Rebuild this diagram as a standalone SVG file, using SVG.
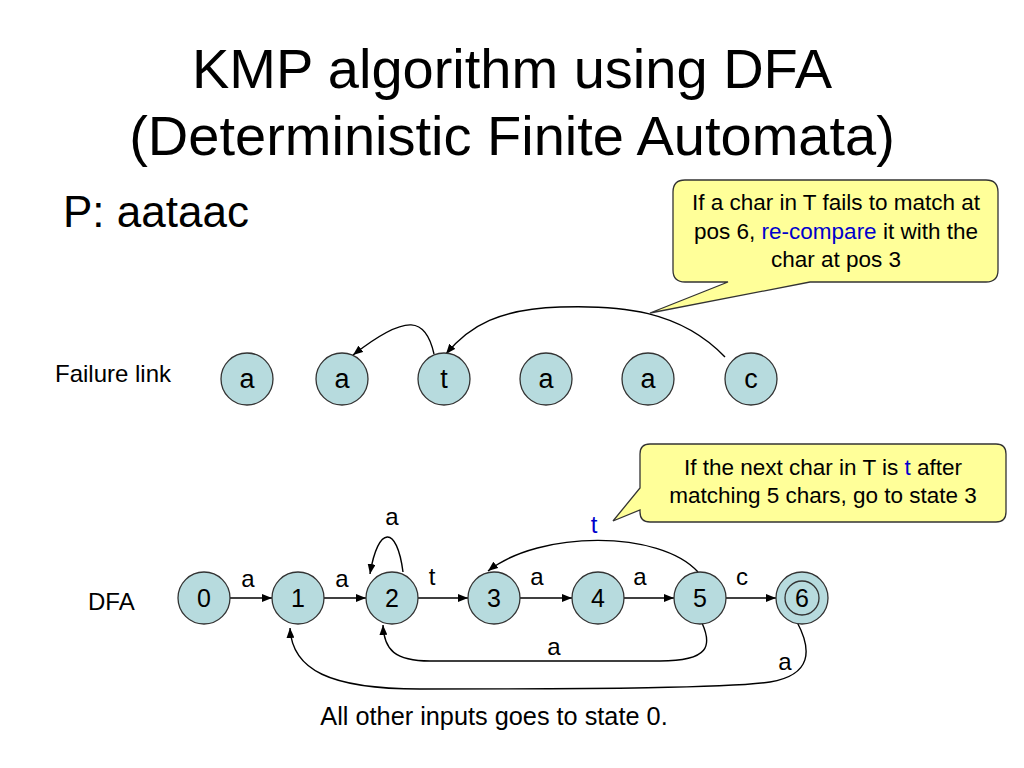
<svg xmlns="http://www.w3.org/2000/svg" width="1024" height="768" viewBox="0 0 1024 768">
<style>
text{font-family:"Liberation Sans",Arial,Helvetica,sans-serif;fill:#000}
.st{fill:#b7dbde;stroke:#333;stroke-width:1.3}
.nt{font-size:25px;text-anchor:middle}
.ft{font-size:27px;text-anchor:middle}
.lb{font-size:24px;text-anchor:middle}
.co{fill:#ffff99;stroke:#333;stroke-width:1.3}
.ct{font-size:22.5px;text-anchor:middle}
.blue{fill:#0000cc}
.ed{fill:none;stroke:#000;stroke-width:1.4;marker-end:url(#ah)}
</style>
<defs>
<marker id="ah" markerWidth="10" markerHeight="8" refX="10" refY="4" orient="auto" markerUnits="userSpaceOnUse"><path d="M0,0 L10,4 L0,8 z" fill="#000"/></marker>
</defs>
<rect width="1024" height="768" fill="#fff"/>
<g id="title">
<text x="512" y="88" font-size="56" text-anchor="middle">KMP algorithm using DFA</text>
<text x="512" y="155" font-size="56" text-anchor="middle">(Deterministic Finite Automata)</text>
</g>
<text id="pattern" x="63" y="227" font-size="44">P: aataac</text>
<text id="failure-label" x="55" y="382" font-size="24">Failure link</text>
<text id="dfa-label" x="88" y="610" font-size="24">DFA</text>
<text id="footer" x="494" y="725" font-size="25.3" text-anchor="middle">All other inputs goes to state 0.</text>

<g id="connectors">
<path class="ed" d="M434,354 C426,318 408,312 353,355"/>
<path class="ed" d="M725,357 C680,310 620,305 560,307 C500,309 470,325 446,354"/>
<line class="ed" x1="230" y1="598" x2="272" y2="598"/>
<line class="ed" x1="324" y1="598" x2="366" y2="598"/>
<line class="ed" x1="418" y1="598" x2="468" y2="598"/>
<line class="ed" x1="520" y1="598" x2="572" y2="598"/>
<line class="ed" x1="624" y1="598" x2="674" y2="598"/>
<line class="ed" x1="726" y1="598" x2="776" y2="598"/>
<path class="ed" d="M403,572 C397,525 378,525 370,574"/>
<path class="ed" d="M698,572 C660,530 540,530 488,571"/>
<path class="ed" d="M702,623 C712,645 710,661 660,661 L430,661 C395,661 384,650 383,625"/>
<path class="ed" d="M797,622 C812,650 812,675 770,682 C730,688 600,689 420,689 C330,689 292,670 290,628"/>
<text class="lb" x="248" y="587">a</text>
<text class="lb" x="342" y="587">a</text>
<text class="lb" x="432" y="585">t</text>
<text class="lb" x="537" y="585">a</text>
<text class="lb" x="640" y="585">a</text>
<text class="lb" x="742" y="585">c</text>
<text class="lb" x="392" y="525">a</text>
<text class="lb blue" x="594" y="533">t</text>
<text class="lb" x="554" y="655">a</text>
<text class="lb" x="785" y="670">a</text>
</g>

<g id="callout1">
<path class="co" d="M685,180 H986 Q998,180 998,192 V270 Q998,282 986,282 H810 L650,313 L728,282 H685 Q673,282 673,270 V192 Q673,180 685,180 Z"/>
<text class="ct" x="836" y="210">If a char in T fails to match at</text>
<text class="ct" x="836" y="239">pos 6, <tspan class="blue">re-compare</tspan> it with the</text>
<text class="ct" x="836" y="267">char at pos 3</text>
</g>
<g id="callout2">
<path class="co" d="M650,444 H996 Q1006,444 1006,454 V512 Q1006,522 996,522 H650 Q640,522 640,512 V510 L613,521 L640,488 V454 Q640,444 650,444 Z"/>
<text class="ct" x="823" y="475">If the next char in T is <tspan class="blue">t</tspan> after</text>
<text class="ct" x="823" y="503">matching 5 chars, go to state 3</text>
</g>

<g id="f1"><circle class="st" cx="247" cy="379" r="26"/><text class="ft" x="247" y="388">a</text></g>
<g id="f2"><circle class="st" cx="342" cy="379" r="26"/><text class="ft" x="342" y="388">a</text></g>
<g id="f3"><circle class="st" cx="444" cy="379" r="26"/><text class="ft" x="444" y="388">t</text></g>
<g id="f4"><circle class="st" cx="546" cy="379" r="26"/><text class="ft" x="546" y="388">a</text></g>
<g id="f5"><circle class="st" cx="648" cy="379" r="26"/><text class="ft" x="648" y="388">a</text></g>
<g id="f6"><circle class="st" cx="751" cy="379" r="26"/><text class="ft" x="751" y="388">c</text></g>

<g id="s0"><circle class="st" cx="204" cy="598" r="26"/><text class="nt" x="204" y="607">0</text></g>
<g id="s1"><circle class="st" cx="298" cy="598" r="26"/><text class="nt" x="298" y="607">1</text></g>
<g id="s2"><circle class="st" cx="392" cy="598" r="26"/><text class="nt" x="392" y="607">2</text></g>
<g id="s3"><circle class="st" cx="494" cy="598" r="26"/><text class="nt" x="494" y="607">3</text></g>
<g id="s4"><circle class="st" cx="598" cy="598" r="26"/><text class="nt" x="598" y="607">4</text></g>
<g id="s5"><circle class="st" cx="700" cy="598" r="26"/><text class="nt" x="700" y="607">5</text></g>
<g id="s6"><circle class="st" cx="802" cy="598" r="26"/><circle cx="802" cy="598" r="17" fill="none" stroke="#333" stroke-width="1.3"/><text class="nt" x="802" y="607">6</text></g>
</svg>
